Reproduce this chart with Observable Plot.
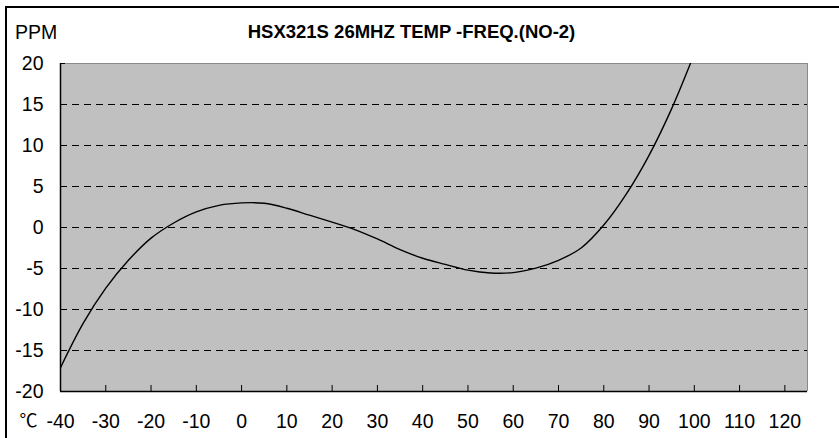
<!DOCTYPE html>
<html>
<head>
<meta charset="utf-8">
<script src="https://cdn.jsdelivr.net/npm/d3@7"></script>
<script src="https://cdn.jsdelivr.net/npm/@observablehq/plot@0.6"></script>
<style>
  html, body { margin: 0; padding: 0; background: #fff; }
  body { width: 839px; height: 438px; position: relative; overflow: hidden;
         font-family: "Liberation Sans", Arial, sans-serif; color: #000; }
  #frame { position: absolute; left: 5px; top: 6px; width: 900px; height: 500px;
           border-top: 2px solid #000; border-left: 2px solid #000; }
  #unit { position: absolute; left: 15px; top: 20px; font-size: 19.5px; line-height: 24px; }
  #title { position: absolute; left: 0; width: 823px; top: 20px; text-align: center;
           font-size: 18.5px; font-weight: bold; line-height: 24px; }
  #chart { position: absolute; left: 0; top: 40px; }
</style>
</head>
<body>
<div id="frame"></div>
<div id="unit">PPM</div>
<div id="title">HSX321S 26MHZ TEMP -FREQ.(NO-2)</div>
<div id="chart"></div>
<script>
// Frequency deviation (ppm) measured across temperature (°C)
const temps = [-40, -35, -30, -25, -20, -15, -10, -5, 0, 5, 10, 15, 20, 25, 30, 35,
               40, 45, 50, 55, 60, 65, 70, 75, 80, 85, 90, 95, 100];
const ppm = [-17.1, -11.7, -7.4, -4.0, -1.3, 0.55, 1.9, 2.7, 3.0, 2.95, 2.35, 1.5, 0.65, -0.25,
             -1.4, -2.7, -3.75, -4.5, -5.2, -5.55, -5.5, -4.95, -4.0, -2.5, 0.3, 4.1, 8.8, 14.5, 21.2];

const xTicks = [-40, -30, -20, -10, 0, 10, 20, 30, 40, 50, 60, 70, 80, 90, 100, 110, 120];
const yTicks = [-20, -15, -10, -5, 0, 5, 10, 15, 20];
const gridLines = [-15, -10, -5, 0, 5, 10, 15];

const points = temps.map((t, i) => ({t, v: ppm[i]}));

const chart = Plot.plot({
  width: 839,
  height: 398,
  marginLeft: 60,
  marginRight: 32,
  marginTop: 23,
  marginBottom: 47,
  style: {
    fontFamily: '"Liberation Sans", Arial, sans-serif',
    fontSize: "19.5px",
    color: "#000",
    background: "transparent",
    overflow: "visible"
  },
  x: {domain: [-40, 125]},
  y: {domain: [-20, 20]},
  marks: [
    Plot.frame({fill: "#c0c0c0", stroke: null}),
    Plot.ruleY(gridLines, {stroke: "#000", strokeWidth: 1, strokeDasharray: "7,5"}),
    Plot.ruleY([20], {stroke: "#8a8a8a", strokeWidth: 1}),
    Plot.ruleX([125], {stroke: "#8a8a8a", strokeWidth: 1}),
    Plot.line(points, {x: "t", y: "v", stroke: "#000", strokeWidth: 1.4, curve: "catmull-rom", clip: true}),
    Plot.ruleX([-40], {stroke: "#000", strokeWidth: 1.5}),
    Plot.ruleY([-20], {stroke: "#000", strokeWidth: 1.5}),
    Plot.axisX(xTicks, {tickSize: -6, tickPadding: 28.5, label: null, tickFormat: d => String(d)}),
    Plot.axisY(yTicks, {tickSize: -5, tickPadding: 22, label: null, tickFormat: d => String(d)}),
    Plot.text(["℃"], {frameAnchor: "bottom-left", dx: -32, dy: 22.5, lineAnchor: "top",
                      textAnchor: "middle", fontFamily: '"Noto Sans CJK SC", sans-serif', fontSize: 18})
  ]
});
document.getElementById("chart").appendChild(chart);
</script>
</body>
</html>
